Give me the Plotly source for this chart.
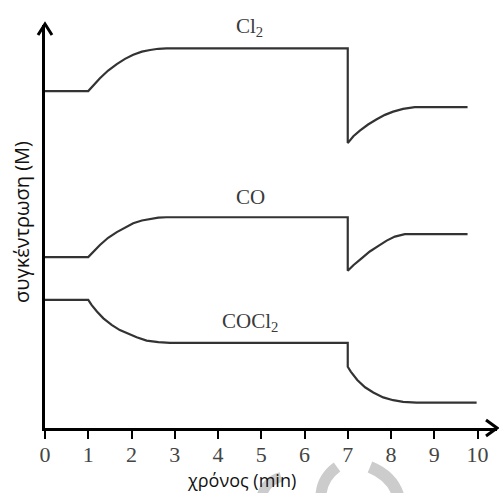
import plotly.graph_objects as go

# ---- data (time in min, concentration in arbitrary units) ----
cl2_t = [0, 1.0, 1.27, 1.46, 1.66, 1.85, 2.04, 2.24, 2.43, 2.62, 2.81, 7.0,
         7.0, 7.13, 7.28, 7.47, 7.67, 7.86, 8.05, 8.28, 8.55, 9.77]
cl2_c = [8.36, 8.36, 8.68, 8.87, 9.03, 9.16, 9.26, 9.34, 9.38, 9.41, 9.42, 9.42,
         7.07, 7.24, 7.38, 7.53, 7.66, 7.77, 7.85, 7.92, 7.96, 7.96]

co_t = [0, 1.0, 1.27, 1.46, 1.66, 1.85, 2.04, 2.24, 2.43, 2.62, 2.81, 7.0,
        7.0, 7.13, 7.32, 7.51, 7.71, 7.90, 8.09, 8.32, 9.77]
co_c = [4.24, 4.24, 4.54, 4.72, 4.86, 4.98, 5.08, 5.15, 5.19, 5.22, 5.23, 5.23,
        3.90, 4.04, 4.21, 4.38, 4.52, 4.65, 4.75, 4.81, 4.81]

cocl2_t = [0, 1.0, 1.08, 1.20, 1.35, 1.54, 1.73, 1.93, 2.12, 2.35, 2.62, 2.89, 7.0,
           7.0, 7.07, 7.22, 7.40, 7.59, 7.82, 8.05, 8.28, 8.59, 9.98]
cocl2_c = [3.18, 3.18, 3.05, 2.89, 2.72, 2.56, 2.43, 2.33, 2.25, 2.17, 2.13, 2.11, 2.11,
           1.52, 1.40, 1.19, 1.01, 0.88, 0.76, 0.69, 0.65, 0.63, 0.63]

label_text = ["Cl<sub>2</sub>", "CO", "COCl<sub>2</sub>"]
label_t = [4.72, 4.74, 4.73]
label_c = [9.95, 5.73, 2.62]

x_ticks = list(range(0, 11))
x_title = "χρόνος (min)"
y_title = "συγκέντρωση (M)"

# ---- figure ----
W, H = 499, 493
ML, MR, MT, MB = 45, 2, 25, 65
PW, PH = W - ML - MR, H - MT - MB


def paper(px, py):
    return (px - ML) / PW, (H - MB - py) / PH


line_col = "#333333"
fig = go.Figure()
for t, c in [(cl2_t, cl2_c), (co_t, co_c), (cocl2_t, cocl2_c)]:
    fig.add_trace(go.Scatter(x=t, y=c, mode="lines",
                             line=dict(color=line_col, width=2.2),
                             showlegend=False, hoverinfo="skip"))

for txt, t, c in zip(label_text, label_t, label_c):
    fig.add_annotation(x=t, y=c, text=txt, showarrow=False,
                       xanchor="center", yanchor="middle",
                       font=dict(family="Liberation Serif", size=21, color="#3a3a3a"))

# axis titles
xt = paper(241, 480)
fig.add_annotation(x=xt[0], y=xt[1], xref="paper", yref="paper", text=x_title,
                   xanchor="center", yanchor="middle",
                   showarrow=False, font=dict(family="Open Sans", size=18, color="#111"))
yt = paper(22, 222)
fig.add_annotation(x=yt[0], y=yt[1], xref="paper", yref="paper", text=y_title,
                   xanchor="center", yanchor="middle",
                   textangle=-90, showarrow=False,
                   font=dict(family="Open Sans", size=20, color="#111"))

shapes = []
# arrowheads
a = [paper(486, 420), paper(497, 428), paper(486, 436)]
shapes.append(dict(type="path", xref="paper", yref="paper",
                   path="M %f,%f L %f,%f L %f,%f" % (a[0][0], a[0][1], a[1][0], a[1][1], a[2][0], a[2][1]),
                   line=dict(color="black", width=3)))
a = [paper(38, 35), paper(45, 24), paper(52, 35)]
shapes.append(dict(type="path", xref="paper", yref="paper",
                   path="M %f,%f L %f,%f L %f,%f" % (a[0][0], a[0][1], a[1][0], a[1][1], a[2][0], a[2][1]),
                   line=dict(color="black", width=3)))
# faint watermark fragments
for (p0, p1, p2, w) in [((281, 477), (266, 481), (262, 495), 10),
                        ((337, 467), (322, 478), (321, 495), 11),
                        ((370, 467), (392, 476), (398, 495), 12)]:
    q0, q1, q2 = paper(*p0), paper(*p1), paper(*p2)
    shapes.append(dict(type="path", xref="paper", yref="paper", layer="below",
                       path="M %f,%f Q %f,%f %f,%f" % (q0[0], q0[1], q1[0], q1[1], q2[0], q2[1]),
                       line=dict(color="#cccccc", width=w)))

fig.update_layout(
    width=W, height=H, margin=dict(l=ML, r=MR, t=MT, b=MB),
    paper_bgcolor="white", plot_bgcolor="white", shapes=shapes,
    xaxis=dict(range=[0, PW / 43.25], showgrid=False, zeroline=False,
               showline=True, linecolor="black", linewidth=3,
               ticks="outside", ticklen=8, tickwidth=2, tickcolor="black",
               tickvals=x_ticks, ticktext=[str(v) for v in x_ticks],
               ticklabelstandoff=-3,
               tickfont=dict(family="Liberation Serif", size=22, color="#444")),
    yaxis=dict(range=[0, PH / 40.3], showgrid=False, zeroline=False,
               showline=True, linecolor="black", linewidth=3,
               showticklabels=False, ticks=""),
)

fig.write_html("out.html", config={"displayModeBar": False},
               post_script="document.body.style.margin='0';document.body.style.padding='0';")
